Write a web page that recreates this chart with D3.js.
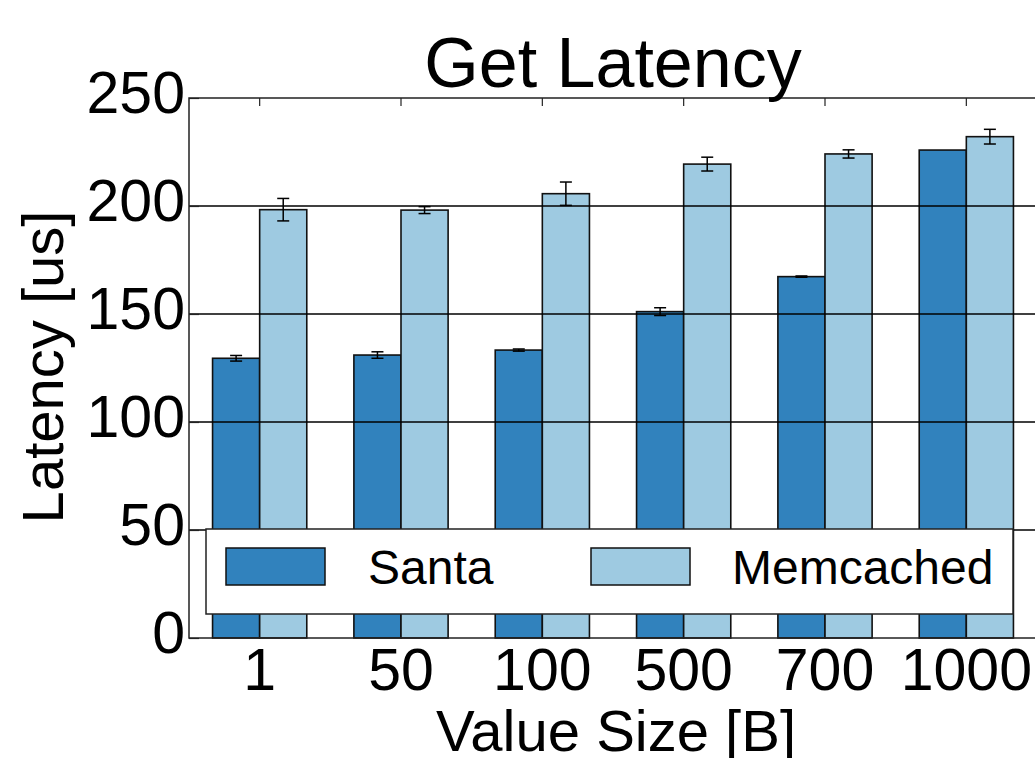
<!DOCTYPE html>
<html>
<head>
<meta charset="utf-8">
<style>
body{margin:0;background:#fff;font-family:"Liberation Sans",Arial,sans-serif;}
svg{display:block;}
.tick text{font-size:59px;fill:#000;}
.title{font-size:70px;}
.alabel{font-size:58px;}
.legtext{font-size:48px;}
</style>
</head>
<body>
<svg id="chart"></svg>
<script src="https://cdn.jsdelivr.net/npm/d3@7"></script>
<script>

// data
var sizes      = ["1", "50", "100", "500", "700", "1000"];
var seriesName = ["Santa", "Memcached"];
var santa      = [129.5, 131.0, 133.3, 151.1, 167.3, 225.9];
var santaErr   = [1.3, 1.5, 0.5, 1.8, 0.3, 0];
var memc       = [198.3, 198.1, 205.7, 219.4, 224.1, 232.1];
var memcErr    = [5.2, 1.6, 5.4, 3.2, 1.9, 3.4];
var yTicks     = [0, 50, 100, 150, 200, 250];

var colors = {"Santa": "#3182bd", "Memcached": "#9ecae1"};

function buildChart(){
    var W = 1035, H = 758;
    var margin = {top: 98, right: -2, bottom: 120, left: 189};
    var width  = W - margin.left - margin.right;
    var height = H - margin.top - margin.bottom;

    var svg = d3.select("#chart").attr("width", W).attr("height", H)
      .append("g")
      .attr("transform", "translate(" + margin.left + "," + margin.top + ")");

    var x = d3.scaleBand().domain(sizes).range([0, width])
              .paddingInner(1/3).paddingOuter(1/6);
    var xs = d3.scaleBand().domain(seriesName).range([0, x.bandwidth()]);
    var y = d3.scaleLinear().domain([0, 250]).range([height, 0]);

    var rows = sizes.map(function(s, i){
      return [
        {size: s, name: "Santa", v: santa[i], e: santaErr[i]},
        {size: s, name: "Memcached", v: memc[i], e: memcErr[i]}
      ];
    });

    // bars
    var grp = svg.selectAll(".grp").data(rows).enter().append("g")
      .attr("transform", function(d){ return "translate(" + x(d[0].size) + ",0)"; });

    grp.selectAll("rect").data(function(d){ return d; }).enter().append("rect")
      .attr("x", function(d){ return xs(d.name); })
      .attr("y", function(d){ return y(d.v); })
      .attr("width", xs.bandwidth())
      .attr("height", function(d){ return height - y(d.v); })
      .attr("fill", function(d){ return colors[d.name]; })
      .attr("stroke", "#111")
      .attr("stroke-width", 1.6);

    // grid lines (drawn above bars)
    svg.selectAll(".grid").data(yTicks.slice(1, -1)).enter().append("line")
      .attr("x1", 0).attr("x2", width)
      .attr("y1", function(d){ return y(d); })
      .attr("y2", function(d){ return y(d); })
      .attr("stroke", "#000").attr("stroke-width", 1.3);

    // error bars
    var eb = grp.selectAll(".err").data(function(d){ return d.filter(function(r){ return r.e > 0; }); })
      .enter().append("g")
      .attr("transform", function(d){ return "translate(" + (xs(d.name) + xs.bandwidth()/2) + ",0)"; })
      .attr("stroke", "#000").attr("stroke-width", 1.5);
    eb.append("line").attr("x1", 0).attr("x2", 0)
      .attr("y1", function(d){ return y(d.v - d.e); })
      .attr("y2", function(d){ return y(d.v + d.e); });
    eb.append("line").attr("x1", -6).attr("x2", 6)
      .attr("y1", function(d){ return y(d.v - d.e); })
      .attr("y2", function(d){ return y(d.v - d.e); });
    eb.append("line").attr("x1", -6).attr("x2", 6)
      .attr("y1", function(d){ return y(d.v + d.e); })
      .attr("y2", function(d){ return y(d.v + d.e); });

    // frame
    svg.append("rect").attr("x", 0).attr("y", 0)
      .attr("width", width).attr("height", height)
      .attr("fill", "none").attr("stroke", "#222").attr("stroke-width", 1.5);

    // y axis
    var yAxis = d3.axisLeft(y).tickValues(yTicks).tickSize(-10).tickPadding(4);
    var ya = svg.append("g").call(yAxis);
    ya.select(".domain").remove();
    ya.selectAll(".tick line").attr("stroke", "#222").attr("stroke-width", 1.2);
    ya.selectAll(".tick text").attr("dy", "0.25em").attr("x", -4);

    // x axis (labels at bottom, small ticks at top)
    var xAxis = d3.axisBottom(x).tickSize(0).tickPadding(10);
    var xa = svg.append("g").attr("transform", "translate(0," + height + ")").call(xAxis);
    xa.select(".domain").remove();
    xa.selectAll(".tick text").attr("dy", "0.72em");

    svg.selectAll(".xtop").data(sizes).enter().append("line")
      .attr("x1", function(d){ return x(d) + x.bandwidth()/2; })
      .attr("x2", function(d){ return x(d) + x.bandwidth()/2; })
      .attr("y1", 0).attr("y2", 8)
      .attr("stroke", "#222").attr("stroke-width", 1.2);

    // legend
    var leg = svg.append("g").attr("transform", "translate(" + (206 - margin.left) + "," + (529 - margin.top) + ")");
    leg.append("rect").attr("width", 807).attr("height", 85)
      .attr("fill", "#fff").attr("stroke", "#222").attr("stroke-width", 1.5);
    var items = leg.selectAll(".item").data(seriesName).enter().append("g")
      .attr("transform", function(d, i){ return "translate(" + (i === 0 ? 20 : 385) + ",0)"; });
    items.append("rect").attr("y", 19).attr("width", 99).attr("height", 37)
      .attr("fill", function(d){ return colors[d]; })
      .attr("stroke", "#111").attr("stroke-width", 1.5);
    items.append("text").attr("class", "legtext")
      .attr("x", function(d, i){ return i === 0 ? 142 : 141; })
      .attr("y", 55).text(function(d){ return d; });

    // titles
    svg.append("text").attr("class", "title")
      .attr("x", width/2).attr("y", 87 - margin.top)
      .attr("text-anchor", "middle").text("Get Latency");
    svg.append("text").attr("class", "alabel")
      .attr("x", width/2 + 3).attr("y", 751 - margin.top)
      .attr("text-anchor", "middle").text("Value Size [B]");
    svg.append("text").attr("class", "alabel")
      .attr("transform", "translate(" + (63 - margin.left) + "," + (367 - margin.top) + ") rotate(-90)")
      .attr("text-anchor", "middle").text("Latency [us]");
}

buildChart();
</script>
</body>
</html>
